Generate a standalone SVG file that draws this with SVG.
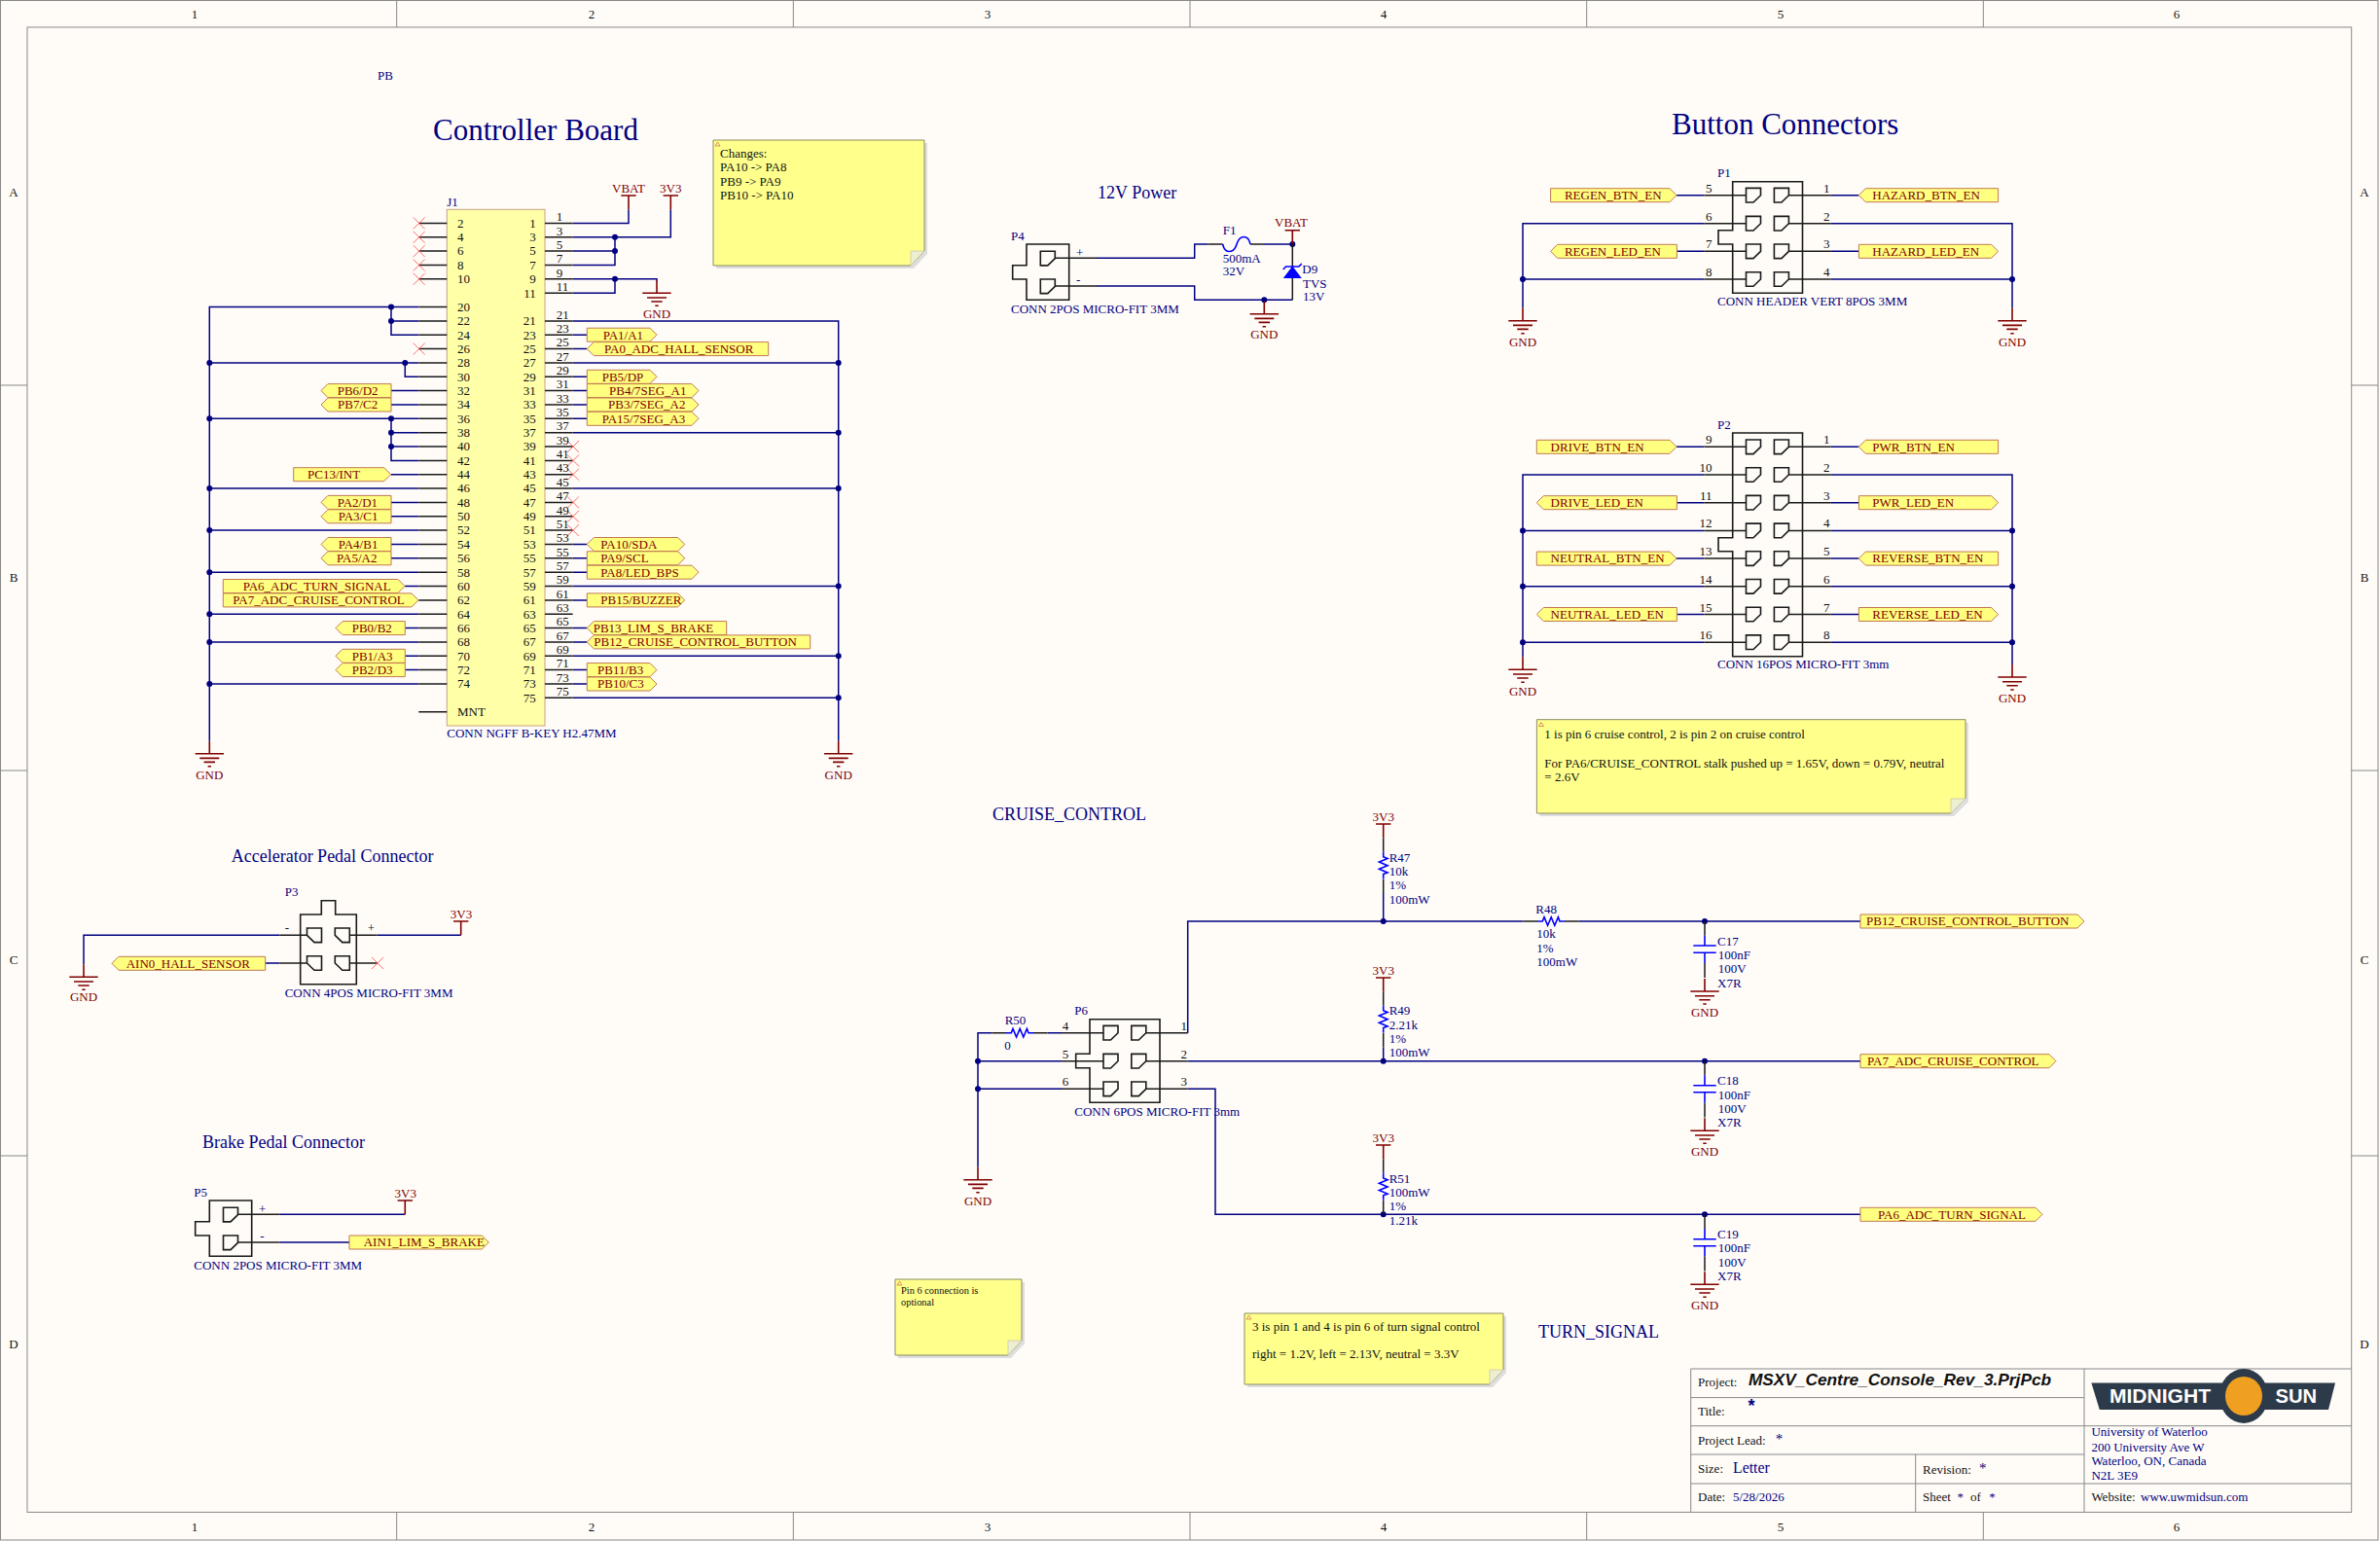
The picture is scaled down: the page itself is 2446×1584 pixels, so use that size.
<svg xmlns="http://www.w3.org/2000/svg" width="2446" height="1584" viewBox="0 0 2446 1584">
<style>
text{font-family:"Liberation Serif",serif;font-size:13px;fill:#000080}
.k text,text.k{fill:#111}
.r text,text.r{fill:#800000}
.e{text-anchor:end}
.m{text-anchor:middle}
.h{font-size:18px}
.H{font-size:31px}
.w{fill:none;stroke:#000080;stroke-width:1.5}
.p{fill:none;stroke:#1a1a1a;stroke-width:1.5}
.b{fill:none;stroke:#1a1a1a;stroke-width:1.6}
.f{fill:none;stroke:#888;stroke-width:1}
.port{fill:#FFFF80;stroke:#C07A50;stroke-width:1}
.sym{fill:none;stroke:#0000FF;stroke-width:1.6}
.d{fill:#000080}
.pw{fill:none;stroke:#800000;stroke-width:1.6}
.x{fill:none;stroke:#FF5A5A;stroke-width:.9}
.note{fill:#FFFF8C;stroke:#8C8C60;stroke-width:1}
.sh{fill:#DEDEDE}
.fold{fill:#EEEED0;stroke:#C8C8A8;stroke-width:.8}
.tri{fill:#FFF2C0;stroke:#D08030;stroke-width:.8}
</style>
<defs>
<path id="gnd" d="M0-13V0M-14.7 0H14.7M-10 4.7H10M-5.7 8.7H5.7M-1.7 13H1.7" class="pw"/>
<path id="pwr" d="M-7.7 0H7.7M0 0V14.3" class="pw"/>
<path id="nc" d="M-6-6L6 6M6-6L-6 6" class="x"/>
<path id="c1" d="M-7.5-7.3H7.5V0L0 7.3H-7.5Z" class="b"/>
<path id="c2" d="M-7.5-7.3H7.5V7.3H0L-7.5 0Z" class="b"/>
<path id="res" d="M0 0H5.3L7 -4.3L10.6 4.3L14.2 -4.3L17.8 4.3L21.4 -4.3L23 0H28" class="sym"/>
</defs>
<rect width="2446" height="1584" fill="#FFFCF8"/>

<g id="sheet-frame">
<rect class="f" x="0.5" y="0.5" width="2443.5" height="1582.5"/>
<rect class="f" x="28" y="28" width="2388.7" height="1526.4"/>
<path class="f" d="M407.7 0V28M815.3 0V28M1223 0V28M1630.7 0V28M2038.3 0V28M407.7 1554V1583M815.3 1554V1583M1223 1554V1583M1630.7 1554V1583M2038.3 1554V1583M0 396H28M0 792H28M0 1188H28M2416.7 396H2444M2416.7 792H2444M2416.7 1188H2444"/>
<g class="k">
<text class="m" x="200" y="18.5">1</text><text class="m" x="608" y="18.5">2</text><text class="m" x="1015" y="18.5">3</text><text class="m" x="1422" y="18.5">4</text><text class="m" x="1830" y="18.5">5</text><text class="m" x="2237" y="18.5">6</text>
<text class="m" x="200" y="1574">1</text><text class="m" x="608" y="1574">2</text><text class="m" x="1015" y="1574">3</text><text class="m" x="1422" y="1574">4</text><text class="m" x="1830" y="1574">5</text><text class="m" x="2237" y="1574">6</text>
<text class="m" x="14" y="202">A</text><text class="m" x="14" y="598">B</text><text class="m" x="14" y="991">C</text><text class="m" x="14" y="1386">D</text>
<text class="m" x="2430" y="202">A</text><text class="m" x="2430" y="598">B</text><text class="m" x="2430" y="991">C</text><text class="m" x="2430" y="1386">D</text>
</g>
</g>

<g id="connectors">
<path class="w" d="M430.3 315.5H215.3V761.7M402 315.5V344.2H430.3M402 329.9H430.3M430.3 372.9H215.3M416.3 372.9V387.3H430.3M402 401.6H430.3M402 416H430.3M430.3 430.3H215.3M402 430.3V473.4H430.3M402 444.7H430.3M402 459H430.3M401.7 487.7H430.3M430.3 502.1H215.3M402 516.4H430.3M402 530.8H430.3M430.3 545.1H215.3M402 559.5H430.3M402 573.8H430.3M430.3 588.2H215.3M416 602.5H430.3M430.3 631.2H215.3M416.3 645.6H430.3M430.3 659.9H215.3M416.3 674.3H430.3M416.3 688.6H430.3M430.3 703H215.3"/>
<path class="w" d="M588.6 229.4H646V215.3M588.6 243.8H689.3V215.3M588.6 258.1H632M588.6 272.5H632V243.8M588.6 286.8H675V288.7M588.6 301.2H632V286.8M588.6 329.9H861.7V761.7M588.6 344.2H603.3M588.6 358.6H603.3M588.6 372.9H861.7M588.6 387.3H603.3M588.6 401.6H603.3M588.6 416H603.3M588.6 430.3H603.3M588.6 444.7H861.7M588.6 502.1H861.7M588.6 559.5H603.3M588.6 573.8H603.3M588.6 588.2H603.3M588.6 602.5H861.7M588.6 616.9H603.3M588.6 645.6H603.3M588.6 659.9H603.3M588.6 674.3H861.7M588.6 688.6H603.3M588.6 703H603.3M588.6 717.3H861.7"/>
<path class="w" d="M1127 265.3H1227.7V251H1241.7M1299 251H1328.3M1127 294H1227.7V308.3H1328.3"/>
<path class="w" d="M1723 200.7H1751.4M1723.4 258.3H1751.4M1751.4 229.7H1565V316.7M1751.4 287H1565M1881.8 200.7H1910.4M1881.8 258.3H1910.4M1881.8 229.7H2068V316.7M1881.8 287H2068"/>
<path class="w" d="M1723 459.3H1751.4M1723.4 516.7H1751.4M1723 574.1H1751.4M1723.4 631.5H1751.4M1751.4 488H1565V675.3M1751.4 545.4H1565M1751.4 602.8H1565M1751.4 660.2H1565M1881.8 459.3H1910.4M1881.8 516.7H1910.4M1881.8 574.1H1910.4M1881.8 631.5H1910.4M1881.8 488H2068V683M1881.8 545.4H2068M1881.8 602.8H2068M1881.8 660.2H2068"/>
<path class="w" d="M287.3 961.3H86V991.3M287.3 990H272.7M387.7 961.3H473.7M287.3 1248.3H416.3M287.3 1277H359"/>
<path class="w" d="M1076.7 1061.7H1091M1019.3 1061.7H1005V1199.7M1091 1090.7H1005M1091 1119.3H1005M1220.7 1061.7V947H1565.3M1622.7 947H1912M1220.7 1090.7H1912M1220.7 1119.3H1249V1248.3H1912M1421.7 918V947M1421.7 1076.4V1090.7"/>
</g>

<g id="junctions" class="d">
<circle cx="402" cy="315.5" r="3"/><circle cx="402" cy="329.9" r="3"/><circle cx="215.3" cy="372.9" r="3"/><circle cx="416.3" cy="372.9" r="3"/><circle cx="215.3" cy="430.3" r="3"/><circle cx="402" cy="430.3" r="3"/><circle cx="402" cy="444.7" r="3"/><circle cx="402" cy="459" r="3"/><circle cx="215.3" cy="502.1" r="3"/><circle cx="215.3" cy="545.1" r="3"/><circle cx="215.3" cy="588.2" r="3"/><circle cx="215.3" cy="631.2" r="3"/><circle cx="215.3" cy="659.9" r="3"/><circle cx="215.3" cy="703" r="3"/>
<circle cx="632" cy="243.8" r="3"/><circle cx="632" cy="258.1" r="3"/><circle cx="632" cy="286.8" r="3"/><circle cx="861.7" cy="372.9" r="3"/><circle cx="861.7" cy="444.7" r="3"/><circle cx="861.7" cy="502.1" r="3"/><circle cx="861.7" cy="602.5" r="3"/><circle cx="861.7" cy="674.3" r="3"/><circle cx="861.7" cy="717.3" r="3"/>
<circle cx="1328.3" cy="251" r="3"/><circle cx="1299.3" cy="308.3" r="3"/>
<circle cx="1565" cy="287" r="3"/><circle cx="2068" cy="287" r="3"/>
<circle cx="1565" cy="545.4" r="3"/><circle cx="1565" cy="602.8" r="3"/><circle cx="1565" cy="660.2" r="3"/><circle cx="2068" cy="545.4" r="3"/><circle cx="2068" cy="602.8" r="3"/><circle cx="2068" cy="660.2" r="3"/>
<circle cx="1005" cy="1090.7" r="3"/><circle cx="1005" cy="1119.3" r="3"/><circle cx="1421.7" cy="947" r="3"/><circle cx="1752" cy="947" r="3"/><circle cx="1421.7" cy="1090.7" r="3"/><circle cx="1752" cy="1090.7" r="3"/><circle cx="1421.7" cy="1248.3" r="3"/><circle cx="1752" cy="1248.3" r="3"/>
</g>

<g id="titles">
<text class="H" x="445" y="144">Controller Board</text>
<text class="H" x="1718" y="138">Button Connectors</text>
<text class="h" x="1128" y="204.3">12V Power</text>
<text class="h" x="237.7" y="886">Accelerator Pedal Connector</text>
<text class="h" x="208" y="1180">Brake Pedal Connector</text>
<text class="h" x="1020" y="843">CRUISE_CONTROL</text>
<text class="h" x="1581" y="1375">TURN_SIGNAL</text>
<text x="388" y="82">PB</text>
</g>

<g id="note-changes">
<path class="sh" d="M736 147H953V261L939 276H736Z"/>
<path class="note" d="M733 144H950V258L936 273H733Z"/>
<path class="fold" d="M936 258H950L936 273Z"/>
<path class="tri" d="M735 150L737.5 146L740 150Z"/>
<g class="k"><text x="740" y="162">Changes:</text><text x="740" y="176.3">PA10 -&gt; PA8</text><text x="740" y="190.6">PB9 -&gt; PA9</text><text x="740" y="205">PB10 -&gt; PA10</text></g>
</g>
<g id="note-stalk">
<path class="sh" d="M1582.4 742.7H2023V824L2008 839H1582.4Z"/>
<path class="note" d="M1579.4 739.7H2020V821L2005 836H1579.4Z"/>
<path class="fold" d="M2005 821H2020L2005 836Z"/>
<path class="tri" d="M1581.5 746.5L1584 742.5L1586.5 746.5Z"/>
<g class="k"><text x="1587.3" y="759">1 is pin 6 cruise control, 2 is pin 2 on cruise control</text><text x="1587.3" y="789">For PA6/CRUISE_CONTROL stalk pushed up = 1.65V, down = 0.79V, neutral</text><text x="1587.3" y="803">= 2.6V</text></g>
</g>
<g id="note-pin6">
<path class="sh" d="M923 1318H1053V1381L1039 1396H923Z"/>
<path class="note" d="M920 1315H1050V1378L1036 1393H920Z"/>
<path class="fold" d="M1036 1378H1050L1036 1393Z"/>
<path class="tri" d="M922 1321L924.5 1317L927 1321Z"/>
<g class="k"><text x="926" y="1330" style="font-size:10.4px">Pin 6 connection is</text><text x="926" y="1342" style="font-size:10.4px">optional</text></g>
</g>
<g id="note-turn">
<path class="sh" d="M1282 1353H1548V1411L1534 1426H1282Z"/>
<path class="note" d="M1279 1350H1545V1408L1531 1423H1279Z"/>
<path class="fold" d="M1531 1408H1545L1531 1423Z"/>
<path class="tri" d="M1281 1356L1283.5 1352L1286 1356Z"/>
<g class="k"><text x="1287" y="1368">3 is pin 1 and 4 is pin 6 of turn signal control</text><text x="1287" y="1396">right = 1.2V, left = 2.13V, neutral = 3.3V</text></g>
</g>

<g id="J1">
<rect x="459.3" y="215.3" width="100.7" height="530.7" fill="#FFFFA8" stroke="#C8A080" stroke-width="1"/>
<path class="p" d="M430.3 229.4H459.3M430.3 243.8H459.3M430.3 258.1H459.3M430.3 272.5H459.3M430.3 286.8H459.3M430.3 315.5H459.3M430.3 329.9H459.3M430.3 344.2H459.3M430.3 358.6H459.3M430.3 372.9H459.3M430.3 387.3H459.3M430.3 401.6H459.3M430.3 416H459.3M430.3 430.3H459.3M430.3 444.7H459.3M430.3 459H459.3M430.3 473.4H459.3M430.3 487.7H459.3M430.3 502.1H459.3M430.3 516.4H459.3M430.3 530.8H459.3M430.3 545.1H459.3M430.3 559.5H459.3M430.3 573.8H459.3M430.3 588.2H459.3M430.3 602.5H459.3M430.3 616.9H459.3M430.3 631.2H459.3M430.3 645.6H459.3M430.3 659.9H459.3M430.3 674.3H459.3M430.3 688.6H459.3M430.3 703H459.3M430.3 731.7H459.3"/>
<path class="p" d="M560 229.4H588.6M560 243.8H588.6M560 258.1H588.6M560 272.5H588.6M560 286.8H588.6M560 301.2H588.6M560 329.9H588.6M560 344.2H588.6M560 358.6H588.6M560 372.9H588.6M560 387.3H588.6M560 401.6H588.6M560 416H588.6M560 430.3H588.6M560 444.7H588.6M560 459H588.6M560 473.4H588.6M560 487.7H588.6M560 502.1H588.6M560 516.4H588.6M560 530.8H588.6M560 545.1H588.6M560 559.5H588.6M560 573.8H588.6M560 588.2H588.6M560 602.5H588.6M560 616.9H588.6M560 631.2H588.6M560 645.6H588.6M560 659.9H588.6M560 674.3H588.6M560 688.6H588.6M560 703H588.6M560 717.3H588.6"/>
<use href="#nc" x="430.7" y="229.4"/><use href="#nc" x="430.7" y="243.8"/><use href="#nc" x="430.7" y="258.1"/><use href="#nc" x="430.7" y="272.5"/><use href="#nc" x="430.7" y="286.8"/><use href="#nc" x="430.7" y="358.6"/>
<use href="#nc" x="589" y="459"/><use href="#nc" x="589" y="473.4"/><use href="#nc" x="589" y="487.7"/><use href="#nc" x="589" y="516.4"/><use href="#nc" x="589" y="530.8"/><use href="#nc" x="589" y="545.1"/>
<text x="459.3" y="211.7">J1</text>
<text x="459.3" y="757.7">CONN NGFF B-KEY H2.47MM</text>
<g class="k">
<text x="470" y="233.7">2</text><text x="470" y="248">4</text><text x="470" y="262.4">6</text><text x="470" y="276.8">8</text><text x="470" y="291.1">10</text><text x="470" y="319.8">20</text><text x="470" y="334.2">22</text><text x="470" y="348.5">24</text><text x="470" y="362.9">26</text><text x="470" y="377.2">28</text><text x="470" y="391.6">30</text><text x="470" y="405.9">32</text><text x="470" y="420.3">34</text><text x="470" y="434.6">36</text><text x="470" y="449">38</text><text x="470" y="463.3">40</text><text x="470" y="477.7">42</text><text x="470" y="492">44</text><text x="470" y="506.4">46</text><text x="470" y="520.7">48</text><text x="470" y="535.1">50</text><text x="470" y="549.4">52</text><text x="470" y="563.8">54</text><text x="470" y="578.1">56</text><text x="470" y="592.5">58</text><text x="470" y="606.8">60</text><text x="470" y="621.2">62</text><text x="470" y="635.5">64</text><text x="470" y="649.9">66</text><text x="470" y="664.2">68</text><text x="470" y="678.6">70</text><text x="470" y="692.9">72</text><text x="470" y="707.3">74</text><text x="470" y="736">MNT</text>
<text class="e" x="550.7" y="233.7">1</text><text class="e" x="550.7" y="248">3</text><text class="e" x="550.7" y="262.4">5</text><text class="e" x="550.7" y="276.8">7</text><text class="e" x="550.7" y="291.1">9</text><text class="e" x="550.7" y="305.5">11</text><text class="e" x="550.7" y="334.2">21</text><text class="e" x="550.7" y="348.5">23</text><text class="e" x="550.7" y="362.9">25</text><text class="e" x="550.7" y="377.2">27</text><text class="e" x="550.7" y="391.6">29</text><text class="e" x="550.7" y="405.9">31</text><text class="e" x="550.7" y="420.3">33</text><text class="e" x="550.7" y="434.6">35</text><text class="e" x="550.7" y="449">37</text><text class="e" x="550.7" y="463.3">39</text><text class="e" x="550.7" y="477.7">41</text><text class="e" x="550.7" y="492">43</text><text class="e" x="550.7" y="506.4">45</text><text class="e" x="550.7" y="520.7">47</text><text class="e" x="550.7" y="535.1">49</text><text class="e" x="550.7" y="549.4">51</text><text class="e" x="550.7" y="563.8">53</text><text class="e" x="550.7" y="578.1">55</text><text class="e" x="550.7" y="592.5">57</text><text class="e" x="550.7" y="606.8">59</text><text class="e" x="550.7" y="621.2">61</text><text class="e" x="550.7" y="635.5">63</text><text class="e" x="550.7" y="649.9">65</text><text class="e" x="550.7" y="664.2">67</text><text class="e" x="550.7" y="678.6">69</text><text class="e" x="550.7" y="692.9">71</text><text class="e" x="550.7" y="707.3">73</text><text class="e" x="550.7" y="721.6">75</text>
<text x="571.7" y="227.1">1</text><text x="571.7" y="241.5">3</text><text x="571.7" y="255.8">5</text><text x="571.7" y="270.2">7</text><text x="571.7" y="284.5">9</text><text x="571.7" y="298.9">11</text><text x="571.7" y="327.6">21</text><text x="571.7" y="341.9">23</text><text x="571.7" y="356.3">25</text><text x="571.7" y="370.6">27</text><text x="571.7" y="385">29</text><text x="571.7" y="399.3">31</text><text x="571.7" y="413.7">33</text><text x="571.7" y="428">35</text><text x="571.7" y="442.4">37</text><text x="571.7" y="456.7">39</text><text x="571.7" y="471.1">41</text><text x="571.7" y="485.4">43</text><text x="571.7" y="499.8">45</text><text x="571.7" y="514.1">47</text><text x="571.7" y="528.5">49</text><text x="571.7" y="542.8">51</text><text x="571.7" y="557.2">53</text><text x="571.7" y="571.5">55</text><text x="571.7" y="585.9">57</text><text x="571.7" y="600.2">59</text><text x="571.7" y="614.6">61</text><text x="571.7" y="628.9">63</text><text x="571.7" y="643.3">65</text><text x="571.7" y="657.6">67</text><text x="571.7" y="672">69</text><text x="571.7" y="686.3">71</text><text x="571.7" y="700.7">73</text><text x="571.7" y="715">75</text>
</g>
</g>

<g id="J1-ports" class="r">
<g id="port-PB6"><path class="port" d="M330 401.6L337 394.6H402V408.6H337Z"/><text x="346.7" y="405.9">PB6/D2</text></g>
<g id="port-PB7"><path class="port" d="M330 416L337 409H402V423H337Z"/><text x="347" y="420.3">PB7/C2</text></g>
<g id="port-PC13"><path class="port" d="M301.7 480.7H394.7L401.7 487.7L394.7 494.7H301.7Z"/><text x="316" y="492">PC13/INT</text></g>
<g id="port-PA2"><path class="port" d="M330 516.4L337 509.4H402V523.4H337Z"/><text x="346.7" y="520.7">PA2/D1</text></g>
<g id="port-PA3"><path class="port" d="M330 530.8L337 523.8H402V537.8H337Z"/><text x="347.7" y="535.1">PA3/C1</text></g>
<g id="port-PA4"><path class="port" d="M330 559.5L337 552.5H402V566.5H337Z"/><text x="347.7" y="563.8">PA4/B1</text></g>
<g id="port-PA5"><path class="port" d="M330 573.8L337 566.8H402V580.8H337Z"/><text x="346" y="578.1">PA5/A2</text></g>
<g id="port-PA6-J1"><path class="port" d="M229.3 595.5H409L416 602.5L409 609.5H229.3Z"/><text x="249.7" y="606.8">PA6_ADC_TURN_SIGNAL</text></g>
<g id="port-PA7-J1"><path class="port" d="M229.3 609.9H423L430 616.9L423 623.9H229.3Z"/><text x="239.3" y="621.2">PA7_ADC_CRUISE_CONTROL</text></g>
<g id="port-PB0"><path class="port" d="M345 645.6L352 638.6H416.3V652.6H352Z"/><text x="361.7" y="649.9">PB0/B2</text></g>
<g id="port-PB1"><path class="port" d="M345 674.3L352 667.3H416.3V681.3H352Z"/><text x="361.7" y="678.6">PB1/A3</text></g>
<g id="port-PB2"><path class="port" d="M345 688.6L352 681.6H416.3V695.6H352Z"/><text x="361.7" y="692.9">PB2/D3</text></g>
<g id="port-PA1"><path class="port" d="M603.3 337.2H668L675 344.2L668 351.2H603.3Z"/><text x="619.7" y="348.5">PA1/A1</text></g>
<g id="port-PA0"><path class="port" d="M603.3 358.6L610.3 351.6H789.7V365.6H610.3Z"/><text x="621" y="362.9">PA0_ADC_HALL_SENSOR</text></g>
<g id="port-PB5"><path class="port" d="M603.3 380.3H668L675 387.3L668 394.3H603.3Z"/><text x="618.7" y="391.6">PB5/DP</text></g>
<g id="port-PB4"><path class="port" d="M603.3 394.6H711L718 401.6L711 408.6H603.3Z"/><text x="626" y="405.9">PB4/7SEG_A1</text></g>
<g id="port-PB3"><path class="port" d="M603.3 409H711L718 416L711 423H603.3Z"/><text x="625" y="420.3">PB3/7SEG_A2</text></g>
<g id="port-PA15"><path class="port" d="M603.3 423.3H711L718 430.3L711 437.3H603.3Z"/><text x="618.7" y="434.6">PA15/7SEG_A3</text></g>
<g id="port-PA10"><path class="port" d="M603.3 559.5L610.3 552.5H696.7L703.7 559.5L696.7 566.5H610.3Z"/><text x="617.3" y="563.8">PA10/SDA</text></g>
<g id="port-PA9"><path class="port" d="M603.3 566.8H696.7L703.7 573.8L696.7 580.8H603.3Z"/><text x="617.3" y="578.1">PA9/SCL</text></g>
<g id="port-PA8"><path class="port" d="M603.3 581.2H711L718 588.2L711 595.2H603.3Z"/><text x="617.3" y="592.5">PA8/LED_BPS</text></g>
<g id="port-PB15"><path class="port" d="M603.3 609.9H696.7L703.7 616.9L696.7 623.9H603.3Z"/><text x="617.3" y="621.2">PB15/BUZZER</text></g>
<g id="port-PB13"><path class="port" d="M603.3 645.6L610.3 638.6H746.7V652.6H610.3Z"/><text x="609.7" y="649.9">PB13_LIM_S_BRAKE</text></g>
<g id="port-PB12-J1"><path class="port" d="M603.3 659.9L610.3 652.9H832.7V666.9H610.3Z"/><text x="610.3" y="664.2">PB12_CRUISE_CONTROL_BUTTON</text></g>
<g id="port-PB11"><path class="port" d="M603.3 681.6H668L675 688.6L668 695.6H603.3Z"/><text x="614" y="692.9">PB11/B3</text></g>
<g id="port-PB10"><path class="port" d="M603.3 696H668L675 703L668 710H603.3Z"/><text x="614" y="707.3">PB10/C3</text></g>
</g>

<g id="power-J1" class="r">
<use href="#pwr" x="646" y="201"/><text class="m" x="646" y="197.5">VBAT</text>
<use href="#pwr" x="689.3" y="201"/><text class="m" x="689.3" y="197.5">3V3</text>
<use href="#gnd" x="675" y="301.3"/><text class="m" x="675" y="326.7">GND</text>
<use href="#gnd" x="215.3" y="774.7"/><text class="m" x="215.3" y="800.7">GND</text>
<use href="#gnd" x="861.7" y="774.7"/><text class="m" x="861.7" y="800.7">GND</text>
</g>

<g id="P4">
<path class="b" d="M1055 251H1098.7V308.3H1055V287H1040.7V272.7H1055Z"/>
<use href="#c1" x="1076.8" y="265.6"/><use href="#c1" x="1076.8" y="294.3"/>
<path class="p" d="M1084.3 265.3H1127M1084.3 294H1127"/>
<text x="1039" y="246.7">P4</text><text x="1106" y="264">+</text><text x="1106" y="291.7">-</text>
<text x="1039" y="321.7">CONN 2POS MICRO-FIT 3MM</text>
</g>
<g id="F1">
<path class="p" d="M1241.7 251H1256.7M1285 251H1299"/>
<path class="sym" d="M1256.7 251C1258.5 261 1268 261 1271 251C1274 241 1283 241 1285 251"/>
<text x="1256.7" y="240.7">F1</text><text x="1256.7" y="270">500mA</text><text x="1256.7" y="283.3">32V</text>
</g>
<g id="D9">
<path class="p" d="M1328.3 251V308.3"/>
<path d="M1328.3 273.5L1337.8 286H1318.8Z" fill="#0000FF"/>
<path class="sym" d="M1318.8 277L1321.5 274H1335L1337.8 271"/>
<text x="1338.3" y="280.7">D9</text><text x="1339" y="296">TVS</text><text x="1339" y="309.3">13V</text>
</g>
<g id="power-P4" class="r">
<use href="#pwr" x="1328.3" y="236.7"/><text class="m" x="1327" y="233.3">VBAT</text>
<use href="#gnd" x="1299.3" y="322.7"/><text class="m" x="1299.3" y="348.3">GND</text>
</g>

<g id="P1">
<path class="b" d="M1780.7 186.7H1852.5V301.3H1780.7V251H1766V236.7H1780.7Z"/>
<use href="#c1" x="1802" y="200.7"/><use href="#c1" x="1802" y="229.7"/><use href="#c1" x="1802" y="258.3"/><use href="#c1" x="1802" y="287"/>
<use href="#c1" x="1830.9" y="200.7"/><use href="#c1" x="1830.9" y="229.7"/><use href="#c1" x="1830.9" y="258.3"/><use href="#c1" x="1830.9" y="287"/>
<path class="p" d="M1751.4 200.7H1794.5M1751.4 229.7H1794.5M1751.4 258.3H1794.5M1751.4 287H1794.5M1838.4 200.7H1881.8M1838.4 229.7H1881.8M1838.4 258.3H1881.8M1838.4 287H1881.8"/>
<text x="1765" y="181.7">P1</text><text x="1765" y="313.7">CONN HEADER VERT 8POS 3MM</text>
<g class="k"><text class="e" x="1759.6" y="197.7">5</text><text class="e" x="1759.6" y="226.7">6</text><text class="e" x="1759.6" y="255.3">7</text><text class="e" x="1759.6" y="284">8</text><text x="1874" y="197.7">1</text><text x="1874" y="226.7">2</text><text x="1874" y="255.3">3</text><text x="1874" y="284">4</text></g>
</g>
<g id="P1-ports" class="r">
<g id="port-REGEN-BTN"><path class="port" d="M1593.6 193.7H1716L1723 200.7L1716 207.7H1593.6Z"/><text x="1607.9" y="205">REGEN_BTN_EN</text></g>
<g id="port-REGEN-LED"><path class="port" d="M1593.6 258.3L1600.6 251.3H1723.4V265.3H1600.6Z"/><text x="1607.9" y="262.6">REGEN_LED_EN</text></g>
<g id="port-HAZARD-BTN"><path class="port" d="M1910.4 200.7L1917.4 193.7H2053.6V207.7H1917.4Z"/><text x="1924.3" y="205">HAZARD_BTN_EN</text></g>
<g id="port-HAZARD-LED"><path class="port" d="M1910.4 251.3H2046.6L2053.6 258.3L2046.6 265.3H1910.4Z"/><text x="1924.3" y="262.6">HAZARD_LED_EN</text></g>
<use href="#gnd" x="1565" y="329.7"/><text class="m" x="1565" y="355.7">GND</text>
<use href="#gnd" x="2068" y="329.7"/><text class="m" x="2068" y="355.7">GND</text>
</g>

<g id="P2">
<path class="b" d="M1780.7 445H1852.5V674.7H1780.7V566.7H1766V552.7H1780.7Z"/>
<use href="#c1" x="1802" y="459.3"/><use href="#c1" x="1802" y="488"/><use href="#c1" x="1802" y="516.7"/><use href="#c1" x="1802" y="545.4"/><use href="#c1" x="1802" y="574.1"/><use href="#c1" x="1802" y="602.8"/><use href="#c1" x="1802" y="631.5"/><use href="#c1" x="1802" y="660.2"/>
<use href="#c1" x="1830.9" y="459.3"/><use href="#c1" x="1830.9" y="488"/><use href="#c1" x="1830.9" y="516.7"/><use href="#c1" x="1830.9" y="545.4"/><use href="#c1" x="1830.9" y="574.1"/><use href="#c1" x="1830.9" y="602.8"/><use href="#c1" x="1830.9" y="631.5"/><use href="#c1" x="1830.9" y="660.2"/>
<path class="p" d="M1751.4 459.3H1794.5M1751.4 488H1794.5M1751.4 516.7H1794.5M1751.4 545.4H1794.5M1751.4 574.1H1794.5M1751.4 602.8H1794.5M1751.4 631.5H1794.5M1751.4 660.2H1794.5M1838.4 459.3H1881.8M1838.4 488H1881.8M1838.4 516.7H1881.8M1838.4 545.4H1881.8M1838.4 574.1H1881.8M1838.4 602.8H1881.8M1838.4 631.5H1881.8M1838.4 660.2H1881.8"/>
<text x="1765" y="440.7">P2</text><text x="1765" y="686.7">CONN 16POS MICRO-FIT 3mm</text>
<g class="k"><text class="e" x="1759.6" y="456.3">9</text><text class="e" x="1759.6" y="485">10</text><text class="e" x="1759.6" y="513.7">11</text><text class="e" x="1759.6" y="542.4">12</text><text class="e" x="1759.6" y="571.1">13</text><text class="e" x="1759.6" y="599.8">14</text><text class="e" x="1759.6" y="628.5">15</text><text class="e" x="1759.6" y="657.2">16</text>
<text x="1874" y="456.3">1</text><text x="1874" y="485">2</text><text x="1874" y="513.7">3</text><text x="1874" y="542.4">4</text><text x="1874" y="571.1">5</text><text x="1874" y="599.8">6</text><text x="1874" y="628.5">7</text><text x="1874" y="657.2">8</text></g>
</g>
<g id="P2-ports" class="r">
<g id="port-DRIVE-BTN"><path class="port" d="M1579.3 452.3H1716L1723 459.3L1716 466.3H1579.3Z"/><text x="1593.6" y="463.6">DRIVE_BTN_EN</text></g>
<g id="port-DRIVE-LED"><path class="port" d="M1579.3 516.7L1586.3 509.7H1723.4V523.7H1586.3Z"/><text x="1593.6" y="521">DRIVE_LED_EN</text></g>
<g id="port-NEUTRAL-BTN"><path class="port" d="M1579.3 567.1H1716L1723 574.1L1716 581.1H1579.3Z"/><text x="1593.6" y="578.4">NEUTRAL_BTN_EN</text></g>
<g id="port-NEUTRAL-LED"><path class="port" d="M1579.3 631.5L1586.3 624.5H1723.4V638.5H1586.3Z"/><text x="1593.6" y="635.8">NEUTRAL_LED_EN</text></g>
<g id="port-PWR-BTN"><path class="port" d="M1910.4 459.3L1917.4 452.3H2053.6V466.3H1917.4Z"/><text x="1924.3" y="463.6">PWR_BTN_EN</text></g>
<g id="port-PWR-LED"><path class="port" d="M1910.4 509.7H2046.6L2053.6 516.7L2046.6 523.7H1910.4Z"/><text x="1924.3" y="521">PWR_LED_EN</text></g>
<g id="port-REVERSE-BTN"><path class="port" d="M1910.4 574.1L1917.4 567.1H2053.6V581.1H1917.4Z"/><text x="1924.3" y="578.4">REVERSE_BTN_EN</text></g>
<g id="port-REVERSE-LED"><path class="port" d="M1910.4 624.5H2046.6L2053.6 631.5L2046.6 638.5H1910.4Z"/><text x="1924.3" y="635.8">REVERSE_LED_EN</text></g>
<use href="#gnd" x="1565" y="688.3"/><text class="m" x="1565" y="714.7">GND</text>
<use href="#gnd" x="2068" y="696"/><text class="m" x="2068" y="721.7">GND</text>
</g>

<g id="P3">
<path class="b" d="M308.7 940H330.3V925.7H344.7V940H366.3V1011.7H308.7Z"/>
<use href="#c2" x="323" y="961.3"/><use href="#c2" x="323" y="990"/><use href="#c2" x="351.8" y="961.3"/><use href="#c2" x="351.8" y="990"/>
<path class="p" d="M315.5 961.3H287.3M315.5 990H287.3M359.3 961.3H387.7M359.3 990H387.7"/>
<use href="#nc" x="388" y="990"/>
<text x="292.7" y="921">P3</text><text x="292.7" y="1025">CONN 4POS MICRO-FIT 3MM</text>
<g class="k"><text x="292.7" y="957.7">-</text><text x="377.7" y="958">+</text></g>
</g>
<g id="P3-power" class="r">
<g id="port-AIN0"><path class="port" d="M115 990.3L122 983.3H272.7V997.3H122Z"/><text x="129.7" y="994.6">AIN0_HALL_SENSOR</text></g>
<use href="#gnd" x="86" y="1004.3"/><text class="m" x="86" y="1029.3">GND</text>
<use href="#pwr" x="473.7" y="947"/><text class="m" x="474" y="944">3V3</text>
</g>

<g id="P5">
<path class="b" d="M215.3 1234H258.7V1291.3H215.3V1270H200.7V1255.7H215.3Z"/>
<use href="#c1" x="237" y="1248.6"/><use href="#c1" x="237" y="1277.3"/>
<path class="p" d="M244.3 1248.3H287.3M244.3 1277H287.3"/>
<text x="199.3" y="1230">P5</text><text x="199.3" y="1305">CONN 2POS MICRO-FIT 3MM</text>
<text x="266" y="1247.3">+</text><text x="267.3" y="1275">-</text>
</g>
<g id="P5-power" class="r">
<g id="port-AIN1"><path class="port" d="M359 1270H495.3L502.3 1277L495.3 1284H359Z"/><text x="373.7" y="1281.3">AIN1_LIM_S_BRAKE</text></g>
<use href="#pwr" x="416.3" y="1234"/><text class="m" x="416.7" y="1231">3V3</text>
</g>

<g id="P6">
<path class="b" d="M1120 1047.7H1192V1133.3H1120V1097.7H1105.7V1083.3H1120Z"/>
<use href="#c1" x="1141.5" y="1061.7"/><use href="#c1" x="1141.5" y="1090.7"/><use href="#c1" x="1141.5" y="1119.3"/>
<use href="#c1" x="1170.3" y="1061.7"/><use href="#c1" x="1170.3" y="1090.7"/><use href="#c1" x="1170.3" y="1119.3"/>
<path class="p" d="M1091 1061.7H1134M1091 1090.7H1134M1091 1119.3H1134M1177.8 1061.7H1220.7M1177.8 1090.7H1220.7M1177.8 1119.3H1220.7"/>
<text x="1104.3" y="1042.7">P6</text><text x="1104.3" y="1146.7">CONN 6POS MICRO-FIT 3mm</text>
<g class="k"><text class="m" x="1095" y="1059">4</text><text class="m" x="1095" y="1088">5</text><text class="m" x="1095" y="1116.3">6</text><text class="m" x="1216.7" y="1059">1</text><text class="m" x="1216.7" y="1088">2</text><text class="m" x="1216.7" y="1116.3">3</text></g>
</g>
<g id="R50">
<path class="p" d="M1019.3 1061.7H1034M1062 1061.7H1076.7"/>
<use href="#res" transform="translate(1034 1061.7)"/>
<text x="1032.7" y="1053.3">R50</text><text x="1032.3" y="1079">0</text>
</g>
<g id="R47">
<path class="p" d="M1421.7 861.3V875.5M1421.7 903.7V918"/>
<use href="#res" transform="translate(1421.7 875.5) rotate(90)"/>
<text x="1427.7" y="886">R47</text><text x="1427.7" y="900">10k</text><text x="1427.7" y="914">1%</text><text x="1427.7" y="928.7">100mW</text>
</g>
<g id="R48">
<path class="p" d="M1565.3 947H1580M1608 947H1622.7"/>
<use href="#res" transform="translate(1580 947)"/>
<text x="1578.3" y="939">R48</text><text x="1579.3" y="964">10k</text><text x="1579.3" y="978.7">1%</text><text x="1579.3" y="992.7">100mW</text>
</g>
<g id="R49">
<path class="p" d="M1421.7 1019.3V1033.5M1421.7 1061.7V1076.4"/>
<use href="#res" transform="translate(1421.7 1033.5) rotate(90)"/>
<text x="1427.7" y="1042.7">R49</text><text x="1427.7" y="1058">2.21k</text><text x="1427.7" y="1072">1%</text><text x="1427.7" y="1085.7">100mW</text>
</g>
<g id="R51">
<path class="p" d="M1421.7 1191.3V1205.7M1421.7 1234V1248.3"/>
<use href="#res" transform="translate(1421.7 1205.7) rotate(90)"/>
<text x="1427.7" y="1215.7">R51</text><text x="1427.7" y="1230">100mW</text><text x="1427.7" y="1244">1%</text><text x="1427.7" y="1259">1.21k</text>
</g>
<g id="C17">
<path class="p" d="M1752 947V961.7M1752 990V1005"/>
<path class="sym" d="M1752 961.7V972M1740.3 972H1763.7M1740.3 979.3H1763.7M1752 979.3V990"/>
<text x="1765" y="971.7">C17</text><text x="1765.7" y="986">100nF</text><text x="1765.7" y="1000">100V</text><text x="1765" y="1015">X7R</text>
</g>
<g id="C18">
<path class="p" d="M1752 1090.7V1105.3M1752 1133.4V1148.5"/>
<path class="sym" d="M1752 1105.3V1115.7M1740.3 1115.7H1763.7M1740.3 1122.7H1763.7M1752 1122.7V1133.4"/>
<text x="1765" y="1115">C18</text><text x="1765.7" y="1130">100nF</text><text x="1765.7" y="1144">100V</text><text x="1765" y="1158">X7R</text>
</g>
<g id="C19">
<path class="p" d="M1752 1248.3V1263M1752 1291.3V1306.5"/>
<path class="sym" d="M1752 1263V1273.7M1740.3 1273.7H1763.7M1740.3 1280.7H1763.7M1752 1280.7V1291.3"/>
<text x="1765" y="1272.7">C19</text><text x="1765.7" y="1286.7">100nF</text><text x="1765.7" y="1301.7">100V</text><text x="1765" y="1315.7">X7R</text>
</g>
<g id="cruise-power" class="r">
<use href="#gnd" x="1005" y="1212.7"/><text class="m" x="1005" y="1238.7">GND</text>
<use href="#pwr" x="1421.7" y="847"/><text class="m" x="1421.7" y="844">3V3</text>
<use href="#pwr" x="1421.7" y="1005"/><text class="m" x="1421.7" y="1002">3V3</text>
<use href="#pwr" x="1421.7" y="1177"/><text class="m" x="1421.7" y="1174">3V3</text>
<use href="#gnd" x="1752" y="1019"/><text class="m" x="1752" y="1044.7">GND</text>
<use href="#gnd" x="1752" y="1162.3"/><text class="m" x="1752" y="1187.7">GND</text>
<use href="#gnd" x="1752" y="1320.3"/><text class="m" x="1752" y="1345.7">GND</text>
<g id="port-PB12"><path class="port" d="M1912 940H2135L2142 947L2135 954H1912Z"/><text x="1918" y="951.3">PB12_CRUISE_CONTROL_BUTTON</text></g>
<g id="port-PA7"><path class="port" d="M1912 1083.7H2106L2113 1090.7L2106 1097.7H1912Z"/><text x="1919" y="1095">PA7_ADC_CRUISE_CONTROL</text></g>
<g id="port-PA6"><path class="port" d="M1912 1241.3H2092L2099 1248.3L2092 1255.3H1912Z"/><text x="1930" y="1252.6">PA6_ADC_TURN_SIGNAL</text></g>
</g>

<g id="title-block">
<path class="f" d="M1737.7 1407H2416.7M1737.7 1436.6H2142M1737.7 1465.7H2416.7M1737.7 1495H2142M1737.7 1525H2416.7M1737.7 1407V1554.4M1968.7 1495V1554.4M2142 1407V1554.4"/>
<g class="k">
<text x="1745" y="1425">Project:</text><text x="1745" y="1455">Title:</text><text x="1745" y="1485">Project Lead:</text><text x="1745" y="1514">Size:</text><text x="1976" y="1514.5">Revision:</text><text x="1745" y="1543.4">Date:</text><text x="1976" y="1543.4">Sheet</text><text x="2025" y="1543.4">of</text><text x="2149.4" y="1543.4">Website:</text>
</g>
<text x="1796.9" y="1424" style="font-family:'Liberation Sans',sans-serif;font-size:17.3px;font-weight:bold;font-style:italic;fill:#111">MSXV_Centre_Console_Rev_3.PrjPcb</text>
<text class="m" x="1800" y="1451" style="font-family:'Liberation Sans',sans-serif;font-size:18px;font-weight:bold">*</text>
<text class="m" x="1828.5" y="1484" style="font-size:15px">*</text>
<text x="1781" y="1514" style="font-size:15.8px">Letter</text>
<text class="m" x="2037.7" y="1514" style="font-size:15px">*</text>
<text x="1781" y="1543.4">5/28/2026</text>
<text class="m" x="2014.8" y="1543.4">*</text><text class="m" x="2047.4" y="1543.4">*</text>
<text x="2149.4" y="1476">University of Waterloo</text><text x="2149.4" y="1492">200 University Ave W</text><text x="2149.4" y="1506.4">Waterloo, ON, Canada</text><text x="2149.4" y="1520.8">N2L 3E9</text>
<text x="2200" y="1543.4">www.uwmidsun.com</text>
<g id="logo">
<path d="M2149.4 1421.5H2400L2393 1449H2157.8Z" fill="#2D3A4A"/>
<ellipse cx="2306" cy="1435" rx="25" ry="28" fill="#2D3A4A"/>
<ellipse cx="2306" cy="1435" rx="19" ry="20" fill="#F0A020"/>
<text x="2168" y="1442" textLength="104" lengthAdjust="spacingAndGlyphs" style="font-family:'Liberation Sans',sans-serif;font-size:20px;font-weight:bold;fill:#fff">MIDNIGHT</text>
<text x="2338.5" y="1442" textLength="42.5" lengthAdjust="spacingAndGlyphs" style="font-family:'Liberation Sans',sans-serif;font-size:20px;font-weight:bold;fill:#fff">SUN</text>
</g>
</g>
</svg>
